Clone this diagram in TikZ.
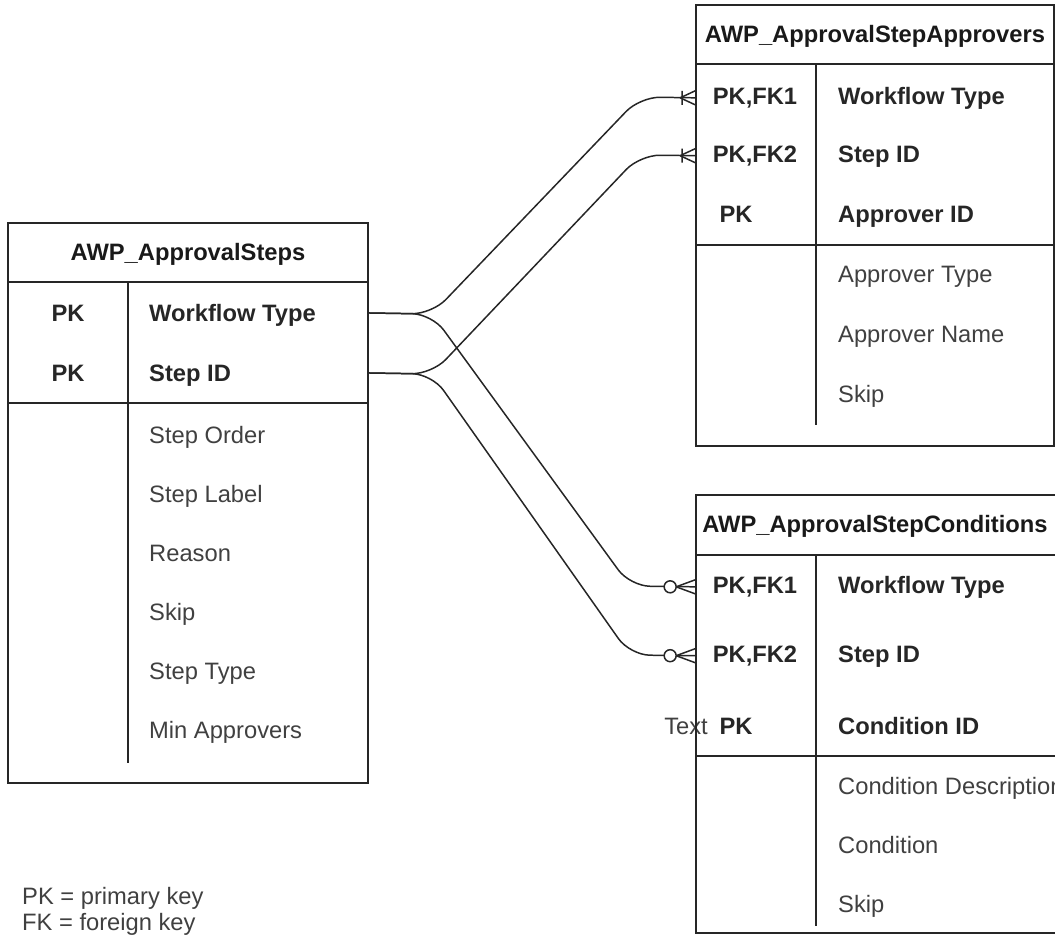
\documentclass[tikz,border=0pt]{standalone}
\usepackage{fontspec}
\setmainfont{Liberation Sans}
\newcommand{\fsz}{\fontsize{13.5}{16}\selectfont}
\tikzset{
  tbl/.style={draw=black!85, line width=1pt, inner sep=0pt},
  rule/.style={draw=black!85, line width=1pt},
  ttl/.style={font=\fsz\bfseries, text=black!90, anchor=mid, yshift=-0.05cm},
  key/.style={font=\fsz\bfseries, text=black!85, anchor=mid, yshift=-0.05cm},
  att/.style={font=\fsz, text=black!75, anchor=mid west, yshift=-0.05cm},
  link/.style={draw=black!85, line width=0.85pt},
  onemany/.pic={\draw[link] (-15,0) -- (0,-7) (-15,0) -- (0,7) (-13,-7) -- (-13,7);},
  zeromany/.pic={\draw[link] (-19,0) -- (0,-7) (-19,0) -- (0,7);
    \draw[link, fill=white] (-25,0) circle[radius=0.12cm];}
}
\begin{document}
\begin{tikzpicture}[x=0.02cm, y=-0.02cm]
  \useasboundingbox (0,0) rectangle (1055,936);
  % AWP_ApprovalSteps
  \node[tbl, minimum width=7.2cm, minimum height=11.2cm] (steps) at (188,503) {};
  \draw[rule] (8,282) -- (368,282) (8,403) -- (368,403) (128,282) -- (128,763);
  \node[ttl] (steps-t) at (188,253) {AWP\_ApprovalSteps};
  \node[key] (steps-pk1) at (68,314) {PK};
  \node[key] (steps-pk2) at (68,374) {PK};
  \node[key, anchor=mid west] (steps-wf) at (143,314) {Workflow Type};
  \node[key, anchor=mid west] (steps-id) at (143,374) {Step ID};
  \node[att] (steps-a1) at (143,436) {Step Order};
  \node[att] (steps-a2) at (143,495) {Step Label};
  \node[att] (steps-a3) at (143,554) {Reason};
  \node[att] (steps-a4) at (143,613) {Skip};
  \node[att] (steps-a5) at (143,672) {Step Type};
  \node[att] (steps-a6) at (143,731) {Min Approvers};

  % AWP_ApprovalStepApprovers
  \node[tbl, minimum width=7.16cm, minimum height=8.82cm] (appr) at (875,225.5) {};
  \draw[rule] (696,64) -- (1054,64) (696,245) -- (1054,245) (816,64) -- (816,425);
  \node[ttl] (appr-t) at (875,35) {AWP\_ApprovalStepApprovers};
  \node[key] (appr-fk1) at (755,97) {PK,FK1};
  \node[key] (appr-fk2) at (755,155) {PK,FK2};
  \node[key] (appr-pk) at (736,215) {PK};
  \node[key, anchor=mid west] (appr-wf) at (832,97) {Workflow Type};
  \node[key, anchor=mid west] (appr-id) at (832,155) {Step ID};
  \node[key, anchor=mid west] (appr-aid) at (832,215) {Approver ID};
  \node[att] (appr-a1) at (832,275) {Approver Type};
  \node[att] (appr-a2) at (832,335) {Approver Name};
  \node[att] (appr-a3) at (832,395) {Skip};

  % AWP_ApprovalStepConditions
  \node[att, anchor=mid] (stray) at (686,727) {Text};
  \node[tbl, minimum width=7.32cm, minimum height=8.76cm] (cond) at (879,714) {};
  \draw[rule] (696,555) -- (1062,555) (696,756) -- (1062,756) (816,555) -- (816,926);
  \node[ttl] (cond-t) at (875,525) {AWP\_ApprovalStepConditions};
  \node[key] (cond-fk1) at (755,586) {PK,FK1};
  \node[key] (cond-fk2) at (755,655) {PK,FK2};
  \node[key] (cond-pk) at (736,727) {PK};
  \node[key, anchor=mid west] (cond-wf) at (832,586) {Workflow Type};
  \node[key, anchor=mid west] (cond-id) at (832,655) {Step ID};
  \node[key, anchor=mid west] (cond-cid) at (832,727) {Condition ID};
  \node[att] (cond-a1) at (832,787) {Condition Description};
  \node[att] (cond-a2) at (832,846) {Condition};
  \node[att] (cond-a3) at (832,905) {Skip};

  % legend
  \node[att] (leg1) at (16,897) {PK = primary key};
  \node[att] (leg2) at (16,923) {FK = foreign key};

  % relations
  \begin{scope}[link, rounded corners=0.4cm]
    \draw (steps.east |- steps-pk1) -- (432,314) -- (640,97) -- (appr.west |- appr-fk1);
    \draw (steps.east |- steps-pk2) -- (432,374) -- (640,155) -- (appr.west |- appr-fk2);
    \draw (steps.east |- steps-pk1) -- (432,314) -- (630,586) -- (cond.west |- cond-fk1);
    \draw (steps.east |- steps-pk2) -- (432,374) -- (630,655) -- (cond.west |- cond-fk2);
  \end{scope}
  \path (appr.west |- appr-fk1) pic {onemany} (appr.west |- appr-fk2) pic {onemany};
  \path (cond.west |- cond-fk1) pic {zeromany} (cond.west |- cond-fk2) pic {zeromany};
\end{tikzpicture}
\end{document}
